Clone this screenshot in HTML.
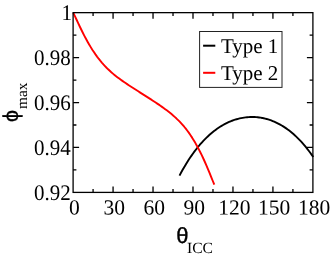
<!DOCTYPE html>
<html><head><meta charset="utf-8"><title>chart</title>
<style>
html,body{margin:0;padding:0;background:#fff;}
body{width:332px;height:257px;overflow:hidden;}
svg{display:block;will-change:transform;}
text{font-family:"Liberation Serif",serif;font-size:21px;fill:#000;text-rendering:geometricPrecision;}
.ss{font-family:"Liberation Sans",sans-serif;font-size:22px;}
.sub{font-size:15px;}
.xl{font-size:21.5px;}
</style></head><body>
<svg width="332" height="257" viewBox="0 0 332 257">
<rect width="332" height="257" fill="#fff"/>
<path d="M179.50,175.60 L181.00,172.79 L182.51,170.07 L184.01,167.44 L185.51,164.90 L187.01,162.45 L188.52,160.09 L190.02,157.80 L191.52,155.60 L193.03,153.48 L194.53,151.43 L196.03,149.46 L197.53,147.57 L199.04,145.74 L200.54,143.99 L202.04,142.30 L203.54,140.68 L205.05,139.12 L206.55,137.62 L208.05,136.19 L209.56,134.82 L211.06,133.51 L212.56,132.26 L214.06,131.06 L215.57,129.92 L217.07,128.83 L218.57,127.80 L220.08,126.81 L221.58,125.88 L223.08,125.00 L224.58,124.17 L226.09,123.39 L227.59,122.66 L229.09,121.97 L230.60,121.33 L232.10,120.74 L233.60,120.19 L235.10,119.68 L236.61,119.22 L238.11,118.81 L239.61,118.43 L241.12,118.10 L242.62,117.82 L244.12,117.57 L245.62,117.37 L247.13,117.21 L248.63,117.10 L250.13,117.02 L251.63,116.99 L253.14,117.00 L254.64,117.05 L256.14,117.14 L257.65,117.28 L259.15,117.46 L260.65,117.68 L262.15,117.94 L263.66,118.25 L265.16,118.60 L266.66,119.00 L268.17,119.43 L269.67,119.92 L271.17,120.45 L272.67,121.03 L274.18,121.65 L275.68,122.32 L277.18,123.04 L278.69,123.81 L280.19,124.62 L281.69,125.49 L283.19,126.40 L284.70,127.37 L286.20,128.40 L287.70,129.47 L289.21,130.60 L290.71,131.78 L292.21,133.03 L293.71,134.33 L295.22,135.68 L296.72,137.10 L298.22,138.58 L299.72,140.12 L301.23,141.72 L302.73,143.39 L304.23,145.12 L305.74,146.92 L307.24,148.79 L308.74,150.73 L310.24,152.74 L311.75,154.82 L313.25,156.98" fill="none" stroke="#000" stroke-width="1.9" stroke-linejoin="round"/>
<path d="M73.30,12.58 L74.88,16.04 L76.47,19.49 L78.05,22.90 L79.64,26.25 L81.22,29.53 L82.81,32.72 L84.39,35.81 L85.97,38.81 L87.56,41.69 L89.14,44.46 L90.73,47.12 L92.31,49.66 L93.90,52.08 L95.48,54.40 L97.06,56.60 L98.65,58.70 L100.23,60.69 L101.82,62.59 L103.40,64.39 L104.99,66.11 L106.57,67.75 L108.15,69.31 L109.74,70.80 L111.32,72.23 L112.91,73.60 L114.49,74.91 L116.08,76.18 L117.66,77.41 L119.24,78.60 L120.83,79.76 L122.41,80.89 L124.00,81.99 L125.58,83.08 L127.17,84.14 L128.75,85.19 L130.33,86.23 L131.92,87.26 L133.50,88.28 L135.09,89.30 L136.67,90.31 L138.26,91.32 L139.84,92.33 L141.42,93.33 L143.01,94.34 L144.59,95.35 L146.18,96.36 L147.76,97.37 L149.34,98.39 L150.93,99.41 L152.51,100.44 L154.10,101.48 L155.68,102.53 L157.27,103.59 L158.85,104.66 L160.43,105.75 L162.02,106.86 L163.60,107.99 L165.19,109.15 L166.77,110.33 L168.36,111.55 L169.94,112.81 L171.52,114.10 L173.11,115.45 L174.69,116.85 L176.28,118.31 L177.86,119.84 L179.45,121.44 L181.03,123.12 L182.61,124.88 L184.20,126.74 L185.78,128.69 L187.37,130.75 L188.95,132.93 L190.54,135.22 L192.12,137.63 L193.70,140.18 L195.29,142.85 L196.87,145.66 L198.46,148.61 L200.04,151.70 L201.63,154.92 L203.21,158.27 L204.79,161.76 L206.38,165.36 L207.96,169.08 L209.55,172.89 L211.13,176.78 L212.72,180.73 L214.30,184.71" fill="none" stroke="#ff0000" stroke-width="1.9" stroke-linejoin="round"/>
<rect x="73.1" y="12.65" width="239.80" height="179.75" fill="none" stroke="#000" stroke-width="1.3"/>
<path d="M93.08,192.4 v-3.3 M93.08,12.65 v3.3 M113.07,192.4 v-6 M113.07,12.65 v6 M133.05,192.4 v-3.3 M133.05,12.65 v3.3 M153.03,192.4 v-6 M153.03,12.65 v6 M173.02,192.4 v-3.3 M173.02,12.65 v3.3 M193.00,192.4 v-6 M193.00,12.65 v6 M212.98,192.4 v-3.3 M212.98,12.65 v3.3 M232.97,192.4 v-6 M232.97,12.65 v6 M252.95,192.4 v-3.3 M252.95,12.65 v3.3 M272.93,192.4 v-6 M272.93,12.65 v6 M292.92,192.4 v-3.3 M292.92,12.65 v3.3 M73.1,35.12 h3.3 M312.9,35.12 h-3.3 M73.1,57.59 h6 M312.9,57.59 h-6 M73.1,80.06 h3.3 M312.9,80.06 h-3.3 M73.1,102.53 h6 M312.9,102.53 h-6 M73.1,124.99 h3.3 M312.9,124.99 h-3.3 M73.1,147.46 h6 M312.9,147.46 h-6 M73.1,169.93 h3.3 M312.9,169.93 h-3.3" fill="none" stroke="#000" stroke-width="1.3"/>
<text class="xl" transform="translate(74.40,214.4) rotate(0.05)" text-anchor="middle">0</text><text class="xl" transform="translate(114.37,214.4) rotate(0.05)" text-anchor="middle">30</text><text class="xl" transform="translate(154.33,214.4) rotate(0.05)" text-anchor="middle">60</text><text class="xl" transform="translate(194.30,214.4) rotate(0.05)" text-anchor="middle">90</text><text class="xl" transform="translate(234.27,214.4) rotate(0.05)" text-anchor="middle">120</text><text class="xl" transform="translate(274.23,214.4) rotate(0.05)" text-anchor="middle">150</text><text class="xl" transform="translate(314.20,214.4) rotate(0.05)" text-anchor="middle">180</text>
<text transform="translate(72.1,19.95) scale(1,1.06)" text-anchor="end">1</text><text transform="translate(70.8,64.89) scale(1,1.06)" text-anchor="end">0.98</text><text transform="translate(70.8,109.83) scale(1,1.06)" text-anchor="end">0.96</text><text transform="translate(70.8,154.76) scale(1,1.06)" text-anchor="end">0.94</text><text transform="translate(70.8,199.70) scale(1,1.06)" text-anchor="end">0.92</text>
<rect x="199.6" y="31.5" width="82.4" height="55.9" fill="#fff" stroke="#222" stroke-width="1"/>
<path d="M203.1,45.7 h12.2" stroke="#000" stroke-width="2"/>
<path d="M203.1,72.8 h12.2" stroke="#ff0000" stroke-width="2"/>
<text x="220.9" y="53.1">Type 1</text>
<text x="220.9" y="80.2">Type 2</text>
<text class="ss" x="176.3" y="243.2" stroke="#000" stroke-width="0.35">θ</text>
<text x="187.0" y="252.5" style="font-size:15.6px">ICC</text>
<g transform="translate(18.4,121.9) rotate(-90)">
<text class="ss" x="0" y="0" style="font-size:21.4px" stroke="#000" stroke-width="0.35">ϕ</text>
<text x="12.9" y="8.3" style="font-size:15.3px">max</text>
</g>
</svg>
</body></html>
